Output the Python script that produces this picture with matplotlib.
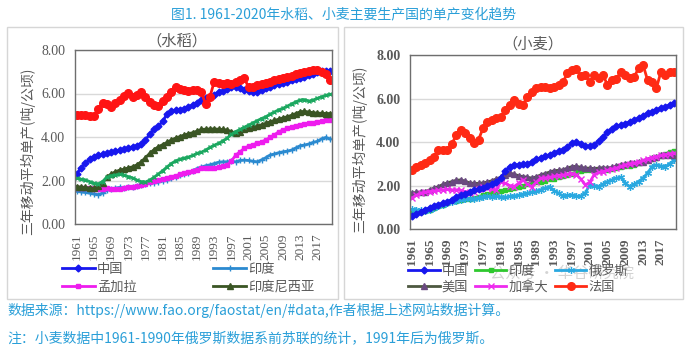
import matplotlib
matplotlib.use("Agg")
import matplotlib.pyplot as plt
import numpy as np
from matplotlib.patches import Rectangle

# tick numbers are serif; Chinese texts get the CJK family explicitly
plt.rcParams['font.family'] = ['Liberation Serif', 'DejaVu Serif']
cjk = ['Noto Sans CJK SC', 'DejaVu Sans']

years = np.arange(1961, 2021)
year_ticks = list(range(1961, 2018, 4))

# ---- rice (水稻), t/ha, 3-year moving average ----
rice_china = [2.30, 2.58, 2.80, 2.97, 3.08, 3.15, 3.20, 3.25, 3.30, 3.35,
              3.40, 3.45, 3.50, 3.55, 3.60, 3.68, 3.85, 4.15, 4.35, 4.50,
              4.72, 5.05, 5.18, 5.24, 5.26, 5.30, 5.38, 5.47, 5.58, 5.70,
              5.78, 5.85, 5.95, 6.05, 6.12, 6.20, 6.28, 6.30, 6.25, 6.15,
              6.10, 6.05, 6.08, 6.15, 6.24, 6.30, 6.38, 6.45, 6.50, 6.54,
              6.60, 6.65, 6.72, 6.77, 6.85, 6.90, 6.97, 7.02, 7.04, 7.03]
rice_india = [1.50, 1.48, 1.45, 1.42, 1.38, 1.35, 1.42, 1.55, 1.60, 1.65,
              1.68, 1.66, 1.68, 1.70, 1.75, 1.78, 1.82, 1.88, 1.90, 1.93,
              1.98, 2.03, 2.10, 2.18, 2.25, 2.30, 2.36, 2.45, 2.55, 2.62,
              2.68, 2.72, 2.78, 2.84, 2.86, 2.86, 2.88, 2.86, 2.92, 2.94,
              2.92, 2.88, 2.86, 2.95, 3.05, 3.17, 3.22, 3.28, 3.32, 3.35,
              3.40, 3.50, 3.60, 3.63, 3.68, 3.75, 3.80, 3.92, 3.98, 3.90]
rice_bangladesh = [1.65, 1.66, 1.65, 1.64, 1.62, 1.62, 1.63, 1.65, 1.62, 1.60,
                   1.62, 1.65, 1.68, 1.72, 1.76, 1.80, 1.86, 1.92, 1.98, 2.03,
                   2.08, 2.12, 2.17, 2.22, 2.28, 2.33, 2.38, 2.43, 2.48, 2.56,
                   2.58, 2.58, 2.56, 2.60, 2.65, 2.71, 2.90, 3.17, 3.32, 3.48,
                   3.58, 3.65, 3.71, 3.78, 3.86, 3.98, 4.10, 4.24, 4.32, 4.40,
                   4.47, 4.52, 4.56, 4.60, 4.63, 4.66, 4.70, 4.73, 4.76, 4.78]
rice_indonesia = [1.72, 1.70, 1.68, 1.66, 1.64, 1.75, 1.90, 2.15, 2.30, 2.40,
                  2.48, 2.52, 2.58, 2.63, 2.72, 2.86, 3.05, 3.25, 3.42, 3.55,
                  3.65, 3.75, 3.86, 3.95, 4.02, 4.09, 4.15, 4.20, 4.27, 4.35,
                  4.36, 4.37, 4.37, 4.36, 4.35, 4.32, 4.25, 4.18, 4.25, 4.35,
                  4.40, 4.45, 4.50, 4.56, 4.63, 4.70, 4.76, 4.82, 4.88, 4.93,
                  5.00, 5.08, 5.16, 5.18, 5.15, 5.12, 5.10, 5.09, 5.08, 5.08]
rice_vietnam = [2.10, 2.06, 2.03, 1.95, 1.87, 1.85, 1.95, 2.15, 2.22, 2.25,
                2.28, 2.25, 2.18, 2.12, 2.02, 1.95, 1.93, 2.02, 2.15, 2.30,
                2.45, 2.62, 2.78, 2.90, 2.98, 3.03, 3.08, 3.15, 3.25, 3.30,
                3.40, 3.52, 3.62, 3.71, 3.82, 3.95, 4.12, 4.25, 4.35, 4.45,
                4.55, 4.65, 4.75, 4.85, 4.93, 5.05, 5.15, 5.25, 5.32, 5.42,
                5.52, 5.62, 5.70, 5.72, 5.65, 5.70, 5.78, 5.85, 5.92, 5.96]
rice_japan = [5.02, 5.00, 5.00, 4.95, 4.98, 5.30, 5.55, 5.50, 5.40, 5.55,
              5.70, 5.90, 6.02, 5.85, 5.95, 6.08, 5.85, 5.62, 5.45, 5.42,
              5.65, 5.85, 6.05, 6.30, 6.22, 6.15, 6.12, 6.16, 6.14, 6.08,
              5.50, 5.85, 6.55, 6.50, 6.45, 6.50, 6.45, 6.55, 6.62, 6.70,
              6.28, 6.31, 6.38, 6.45, 6.50, 6.55, 6.62, 6.68, 6.72, 6.77,
              6.82, 6.88, 6.93, 6.98, 7.03, 7.08, 7.10, 6.98, 6.90, 6.62]

# ---- wheat (小麦) ----
wheat_china = [0.58, 0.68, 0.78, 0.88, 0.98, 1.05, 1.12, 1.18, 1.25, 1.35,
               1.45, 1.55, 1.62, 1.70, 1.78, 1.85, 1.90, 1.98, 2.05, 2.15,
               2.35, 2.65, 2.87, 2.95, 2.95, 2.97, 3.00, 3.08, 3.20, 3.28,
               3.35, 3.42, 3.49, 3.58, 3.65, 3.78, 3.95, 4.00, 3.90, 3.82,
               3.80, 3.88, 4.05, 4.25, 4.45, 4.60, 4.72, 4.78, 4.85, 4.92,
               5.00, 5.10, 5.20, 5.32, 5.40, 5.47, 5.55, 5.62, 5.70, 5.78]
wheat_india = [0.73, 0.76, 0.78, 0.81, 0.88, 0.95, 1.04, 1.12, 1.20, 1.27,
               1.30, 1.33, 1.36, 1.40, 1.42, 1.48, 1.55, 1.62, 1.65, 1.70,
               1.74, 1.78, 1.82, 1.88, 1.94, 2.00, 2.05, 2.11, 2.15, 2.18,
               2.22, 2.28, 2.32, 2.38, 2.44, 2.50, 2.55, 2.60, 2.65, 2.70,
               2.72, 2.70, 2.68, 2.70, 2.72, 2.75, 2.80, 2.85, 2.88, 2.90,
               2.95, 3.05, 3.12, 3.18, 3.22, 3.28, 3.35, 3.45, 3.55, 3.60]
wheat_russia = [0.90, 0.88, 0.86, 0.85, 0.88, 0.95, 1.05, 1.12, 1.18, 1.25,
                1.30, 1.32, 1.38, 1.40, 1.38, 1.42, 1.48, 1.50, 1.46, 1.50,
                1.48, 1.45, 1.50, 1.52, 1.55, 1.60, 1.65, 1.70, 1.75, 1.80,
                1.88, 1.95, 1.75, 1.65, 1.50, 1.55, 1.57, 1.50, 1.52, 1.65,
                2.03, 2.00, 1.95, 2.05, 2.18, 2.25, 2.34, 2.38, 2.10, 1.95,
                2.05, 2.18, 2.35, 2.57, 2.87, 2.95, 2.90, 2.87, 3.00, 3.18]
wheat_usa = [1.65, 1.68, 1.70, 1.72, 1.80, 1.88, 1.95, 2.05, 2.12, 2.18,
             2.24, 2.26, 2.20, 2.12, 2.10, 2.10, 2.12, 2.16, 2.22, 2.30,
             2.38, 2.50, 2.57, 2.52, 2.45, 2.41, 2.38, 2.34, 2.40, 2.49,
             2.55, 2.62, 2.68, 2.70, 2.72, 2.80, 2.87, 2.88, 2.84, 2.80,
             2.80, 2.78, 2.80, 2.82, 2.80, 2.85, 2.90, 2.95, 2.98, 3.02,
             3.05, 3.08, 3.10, 3.18, 3.25, 3.33, 3.38, 3.40, 3.38, 3.41]
wheat_canada = [1.42, 1.55, 1.65, 1.70, 1.72, 1.75, 1.78, 1.80, 1.82, 1.80,
                1.80, 1.78, 1.72, 1.65, 1.72, 1.85, 1.95, 1.90, 1.82, 1.80,
                2.18, 2.10, 2.00, 1.95, 2.10, 2.26, 2.05, 1.95, 2.15, 2.34,
                2.35, 2.38, 2.42, 2.45, 2.48, 2.52, 2.55, 2.50, 2.30, 2.03,
                2.15, 2.50, 2.60, 2.64, 2.70, 2.76, 2.80, 2.88, 2.95, 3.00,
                3.03, 3.08, 3.15, 3.22, 3.28, 3.33, 3.38, 3.42, 3.46, 3.49]
wheat_france = [2.72, 2.87, 2.95, 3.02, 3.17, 3.33, 3.64, 3.62, 3.64, 3.90,
                4.33, 4.55, 4.40, 4.17, 3.94, 4.10, 4.63, 4.94, 5.01, 5.09,
                5.16, 5.47, 5.70, 5.93, 5.77, 5.72, 6.08, 6.31, 6.47, 6.54,
                6.52, 6.50, 6.52, 6.60, 6.77, 7.16, 7.31, 7.34, 7.05, 7.08,
                6.77, 7.08, 6.93, 7.08, 6.62, 6.85, 6.90, 7.23, 7.08, 6.93,
                7.00, 7.39, 7.54, 6.85, 6.77, 6.47, 7.23, 7.08, 7.23, 7.23]

blue = '#2a9fd8'
grey = '#595959'

fig = plt.figure(figsize=(6.88, 3.57), dpi=100)

def px(x, y):
    return x / 688, 1 - y / 357

# panel frames
for x0, x1 in [(7, 338), (344, 683)]:
    fig.patches.append(Rectangle(px(x0, 299), (x1 - x0) / 688, 272 / 357,
                                 transform=fig.transFigure, fill=False,
                                 edgecolor='#d6d6d6', lw=1.0))

def style_axes(ax, bold):
    weight = 'bold' if bold else 'normal'
    ax.set_ylim(0, 8)
    ax.set_xlim(1960.6, 2020.4)
    ax.set_yticks([0, 2, 4, 6, 8])
    ax.set_yticklabels(['0.00', '2.00', '4.00', '6.00', '8.00'],
                       fontsize=10, fontweight=weight, color=grey)
    ax.set_xticks(year_ticks)
    ax.set_xticklabels([str(y) for y in year_ticks], rotation=90,
                       fontsize=9.5, fontweight=weight, color=grey)
    ax.tick_params(length=0, pad=7)
    ax.grid(axis='y', color='#d9d9d9', lw=1)
    ax.set_axisbelow(True)
    for s in ax.spines.values():
        s.set_color('#6e6e6e')
        s.set_linewidth(1.0)

# ---- left: rice ----
ax1 = fig.add_axes([75 / 688, 1 - 224 / 357, 257 / 688, 174 / 357])
l_cn, = ax1.plot(years, rice_china, color='#1717ee', marker='D', ms=3.5, lw=2)
l_in, = ax1.plot(years, rice_india, color='#2b8ad0', marker='+', ms=5, mew=1, lw=2)
l_bd, = ax1.plot(years, rice_bangladesh, color='#ee1cee', marker='s', ms=3.5, lw=2)
l_id, = ax1.plot(years, rice_indonesia, color='#3a5524', marker='^', ms=4.5, lw=2)
ax1.plot(years, rice_vietnam, color='#1ca860', marker='x', ms=3.5, mew=1, lw=2)
ax1.plot(years, rice_japan, color='#ff1414', marker='o', ms=5.5, lw=2)
style_axes(ax1, False)

fig.text(*px(177, 41), '（水稻）', ha='center', va='center', fontsize=11,
         color=grey, family=cjk)
fig.text(*px(28, 151), '三年移动平均单产(吨/公顷)', rotation=90, ha='center',
         va='center', fontsize=10, color=grey, family=cjk)

fig.legend([l_cn, l_bd, l_in, l_id], ['中国', '孟加拉', '印度', '印度尼西亚'],
           ncol=2, loc='upper left', bbox_to_anchor=px(62, 263),
           bbox_transform=fig.transFigure, frameon=False,
           prop={'family': cjk, 'size': 9.5},
           handlelength=2.5, handletextpad=0.15, columnspacing=5.8,
           labelspacing=0.35, borderpad=0, borderaxespad=0, labelcolor=grey)

# ---- right: wheat ----
ax2 = fig.add_axes([410 / 688, 1 - 229 / 357, 266 / 688, 174 / 357])
w_in, = ax2.plot(years, wheat_india, color='#2ec82e', marker='s', ms=3.5, lw=2)
w_ru, = ax2.plot(years, wheat_russia, color='#29a8e0', marker=(6, 2, 0), ms=5, mew=0.9, lw=2)
w_us, = ax2.plot(years, wheat_usa, color='#4d5840', marker='^', ms=4.5, lw=2,
                 mfc='#6a4a80', mec='#6a4a80')
w_ca, = ax2.plot(years, wheat_canada, color='#ee2aee', marker='x', ms=4, mew=1, lw=2)
w_cn, = ax2.plot(years, wheat_china, color='#1717ee', marker='D', ms=3.5, lw=2)
w_fr, = ax2.plot(years, wheat_france, color='#ff2a14', marker='o', ms=5.5, lw=2)
style_axes(ax2, True)

fig.text(*px(533, 44), '（小麦）', ha='center', va='center', fontsize=11,
         color=grey, family=cjk)
fig.text(*px(360, 149), '三年移动平均单产(吨/公顷)', rotation=90, ha='center',
         va='center', fontsize=10, color=grey, family=cjk)

fig.legend([w_cn, w_us, w_in, w_ca, w_ru, w_fr],
           ['中国', '美国', '印度', '加拿大', '俄罗斯', '法国'],
           ncol=3, loc='upper left', bbox_to_anchor=px(408, 265),
           bbox_transform=fig.transFigure, frameon=False,
           prop={'family': cjk, 'size': 9.5},
           handlelength=2.4, handletextpad=0.15, columnspacing=0.5,
           labelspacing=0.2, borderpad=0, borderaxespad=0, labelcolor=grey)

# watermark
fig.text(*px(490, 273), '公众号 · 华谷研究院', ha='left', va='center',
         fontsize=11, color='#a8a8a8', alpha=0.5, family=cjk)

# ---- title and notes ----
fig.text(*px(344, 14), '图1. 1961-2020年水稻、小麦主要生产国的单产变化趋势',
         ha='center', va='center', fontsize=10, color=blue, family=cjk)
fig.text(*px(7, 311), '数据来源：https://www.fao.org/faostat/en/#data,作者根据上述网站数据计算。',
         ha='left', va='center', fontsize=10, color=blue, family=cjk)
fig.text(*px(7, 338), '注：小麦数据中1961-1990年俄罗斯数据系前苏联的统计，1991年后为俄罗斯。',
         ha='left', va='center', fontsize=10, color=blue, family=cjk)

fig.savefig('out.png', dpi=100)
